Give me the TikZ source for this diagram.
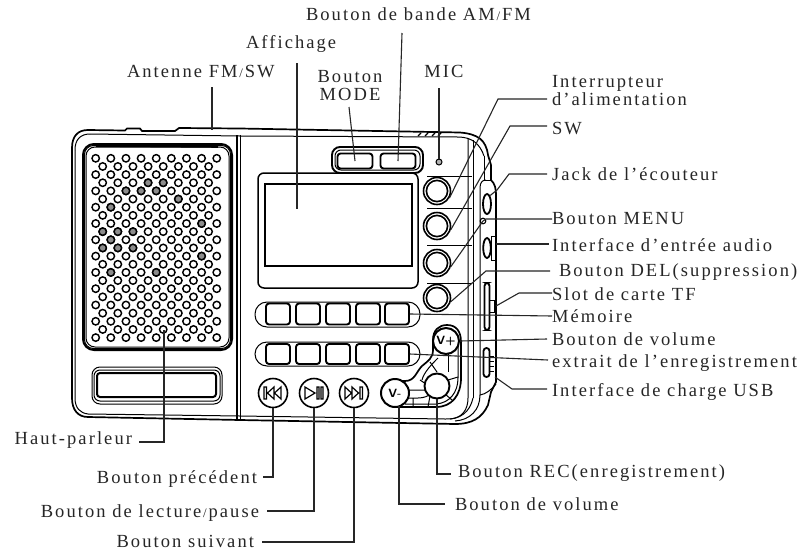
\documentclass[tikz,border=0pt]{standalone}
\usepackage{fontspec}
\usetikzlibrary{shapes.geometric}
\setmainfont[LetterSpace=11.2]{Liberation Serif}
\newcommand{\slashmark}{\hspace{1.8pt}{\fontsize{13}{13}\selectfont/}\hspace{1.8pt}}
\begin{document}
\begin{tikzpicture}[x=1pt,y=-1pt,
  conn/.style={line width=1.1pt,black!85},
  lbl/.style={font=\fontsize{18.5}{18}\selectfont,inner sep=0pt,outer sep=0pt,text=black!85,text height=13pt,text depth=4pt},
  thin body/.style={line width=1pt},
  thick body/.style={line width=1.7pt},
  key/.style={draw,line width=1.9pt,rounded corners=3pt,fill=white},
  holeA/.style={draw,line width=1.45pt,fill=white},
  kbd/.style={draw,circle,line width=2pt,inner sep=0pt,fill=white,font=\bfseries\sffamily\fontsize{12}{12}\selectfont},
  trans/.style={draw,circle,line width=1.6pt,minimum size=29pt,inner sep=0pt,fill=white},
]
\useasboundingbox (0,0) rectangle (806,552);
\fill[white] (0,0) rectangle (806,552);

% ---- body
\draw[thick body,fill=white] (88,130) -- (125,130.5) -- (127,128.5) -- (140,128.5) -- (142,131) -- (175,131) -- (179,128) -- (240,128.5) -- (460,132.5) .. controls (478,134) and (486,140) .. (488,155) -- (491,165) -- (491,180)
   .. controls (495,184) and (496,188) .. (496,196) -- (496,382) -- (491,392) -- (488,405) .. controls (482,418) and (472,424) .. (455,424) -- (240,420) -- (88,417) .. controls (78,417) and (72,410) .. (72,398) -- (72,148) .. controls (72,136) and (78,130) .. (88,130) -- cycle;
\draw[line width=2.4pt] (496,196) -- (496,382);
\draw[thin body] (90,134) -- (240,136) -- (458,137) .. controls (472,137) and (480,144) .. (484,156);
\draw[thin body] (75,150) .. controls (75,140) and (80,134) .. (90,134);
\draw[thin body] (75,150) -- (75,398) .. controls (75,408) and (80,413) .. (88,414) -- (240,416) -- (445,419) .. controls (460,420) and (470,412) .. (473,398);
\draw[thick body] (237,135) -- (237,420);
\draw[thin body] (240,135) -- (240,420);
\draw[thin body] (468,138) -- (468,398) .. controls (468,410) and (462,418) .. (450,419);
\draw[thin body] (473,140) -- (473,398);
\draw[thin body] (484,156) -- (484,180) -- (491,180);
\draw[thin body] (480,395) -- (480,188) .. controls (480,183) and (482,180) .. (486,180);
\draw[thin body] (480,395) .. controls (486,394) and (491,390) .. (496,384);
\draw[thin body] (480,395) .. controls (480,410) and (470,420) .. (455,421);
\draw[line width=1.4pt] (418,136) -- (421,133) (425,136) -- (428,133) (432,136) -- (435,133) (438,136) -- (441,133);

% ---- grille
\draw[line width=2pt,rounded corners=11pt] (83,144) rectangle (232,350);
\draw[thin body,rounded corners=9pt] (86,147) rectangle (229,347);
\draw[thin body,rounded corners=9pt] (84.5,145.5) rectangle (230.5,348.5);
\draw[line width=1.6pt] (96,146) -- (218,147);
\foreach \r in {0,2,...,22} \foreach \c in {0,...,8}
  \draw[holeA] ({95.7+15.13*\c},{158.3+8.15*\r}) circle (3.7);
\foreach \r in {1,3,...,21} \foreach \c in {0,...,7}
  \draw[holeA] ({102.7+15.13*\c},{158.3+8.15*\r}) circle (3.7);
\foreach \r/\c in {4/2,4/3,4/4,6/1,8/7,10/1,12/7,14/1,14/4}
  \draw[holeA,fill=black!45] ({95.7+15.13*\c},{158.3+8.15*\r}) circle (3.7);
\foreach \r/\c in {3/3,3/4,5/5,9/0,9/1,9/2,11/0,11/1,11/2}
  \draw[holeA,fill=black!45] ({102.7+15.13*\c},{158.3+8.15*\r}) circle (3.7);

% ---- speaker bar
\draw[thin body,rounded corners=8pt] (92,367) rectangle (222,404);
\draw[thin body,rounded corners=6pt] (94,370) rectangle (220,401);
\draw[line width=2pt,rounded corners=3pt] (97,373) rectangle (216,397);

% ---- top buttons
\draw[line width=1.9pt,rounded corners=8pt] (332,147) rectangle (423,173);
\draw[thin body,rounded corners=6pt] (335,150) rectangle (420,170);
\node[key,minimum width=35pt,minimum height=15pt,inner sep=0pt] (mode) at (355,161) {};
\node[key,minimum width=35pt,minimum height=15pt,inner sep=0pt] (band) at (398,161) {};
\node[draw,circle,line width=1pt,minimum size=6pt,inner sep=0pt,fill=black!30] (mic) at (439,162) {};

% ---- screen
\draw[line width=1.5pt,rounded corners=6pt,fill=white] (258,173) rectangle (418,288);
\node[draw,line width=1.1pt,minimum width=147pt,minimum height=82pt,inner sep=0pt] (screen) at (338.5,225) {};

% ---- side keys
\draw[thin body] (427,176) -- (472,176) (427,208) -- (472,208) (427,245) -- (472,245) (427,283) -- (472,283);
\foreach \n/\yy in {pow/191,sw/226,menu/263,del/298}{
  \node[draw,circle,line width=1.6pt,minimum size=27pt,inner sep=0pt,fill=white] (\n) at (437,\yy) {};
  \draw[line width=1.6pt] (437,\yy) circle (10.6);
}

% ---- side jacks
\node[draw,ellipse,line width=1.8pt,minimum width=8pt,minimum height=20pt,inner sep=0pt,fill=white] (jack) at (487,204) {};
\draw[line width=1.1pt] (483,221) circle (2.8);
\coordinate (menuJoint) at (483,221);
\draw[thin body,fill=white] (491,236) rectangle (495,260);
\draw[line width=1.8pt,fill=white] (487,248) ellipse (3.8 and 10);
\coordinate (aux) at (496,244);
\draw[line width=1.8pt,rounded corners=3pt] (484.5,283) rectangle (489.5,330);
\draw[thin body] (490,300) -- (494,300) -- (494,312) -- (490,312);
\coordinate (slot) at (496,306);
\draw[line width=1.8pt,rounded corners=3pt] (483.5,348) rectangle (489.5,377);
\draw[thin body] (490,356) -- (494,356) (490,361) -- (494,361) (490,366) -- (494,366) (490,371) -- (494,371);
\coordinate (usb) at (495,377);

% ---- preset rows
\draw[thin body,rounded corners=12pt] (255,302) rectangle (420,327);
\draw[thin body,rounded corners=12pt] (255,342) rectangle (420,366);
\foreach \x [count=\i] in {278,308,338,368,397}{
  \node[key,minimum width=24pt,minimum height=21pt,inner sep=0pt] (mem\i) at (\x,314) {};
  \node[key,minimum width=24pt,minimum height=20pt,inner sep=0pt] (ext\i) at (\x,354) {};
}

% ---- volume cross
\draw[line width=1.7pt] (433,340) -- (433,350) .. controls (433,358) and (428,361) .. (422,366) .. controls (416,372) and (415,381) .. (405,381) -- (392,381);
\draw[line width=1.7pt] (433,340) .. controls (433,330) and (439,325) .. (447,325) .. controls (456,325) and (461,331) .. (461,342) -- (461,378) .. controls (461,395) and (452,407) .. (436,407) -- (395,407);
\draw[thin body] (458,340) -- (458,378) .. controls (458,392) and (450,403) .. (436,404) -- (405,404);
\draw[thin body] (448,352) -- (448,372);
\draw[thin body] (430,362) -- (437,372) (420,380) -- (426,384) (448,380) -- (458,377);
\draw[thin body] (408,390) -- (426,390) (404,398) -- (418,398) .. controls (424,398) and (428,396) .. (431,394) (413,398) -- (413,407);
\draw[thin body] (430,396) -- (428,407) (445,394) -- (452,400);
\draw[thin body] (438,358) .. controls (432,364) and (424,372) .. (422,380);
\node[draw,circle,line width=1.9pt,minimum size=25pt,inner sep=0pt,fill=white] (rec) at (437,386) {};
\node[kbd,minimum size=26pt] (vup) at (446,341) {V+};
\node[kbd,minimum size=28pt] (vdn) at (395,393) {V-};

% ---- transport
\node[trans] (prev) at (273,393) {};
\node[trans] (play) at (314,393) {};
\node[trans] (next) at (354,393) {};
\draw[line width=1.2pt] (264,387) rectangle (266.5,399) (274,387) -- (267.5,393) -- (274,399) -- cycle (281,387) -- (274.5,393) -- (281,399) -- cycle;
\draw[line width=1.2pt] (305,387) -- (315,393) -- (305,399) -- cycle (317,387) rectangle (319,399) (321,387) rectangle (323,399);
\draw[line width=1.2pt] (345,387) -- (351.5,393) -- (345,399) -- cycle (352,387) -- (358.5,393) -- (352,399) -- cycle (360,387) rectangle (362.5,399);

% ---- labels
\node[lbl,anchor=west] (tBand) at (306,16) {Bouton de bande AM\slashmark FM};
\node[lbl,anchor=west] (tDisp) at (246,44) {Affichage};
\node[lbl,anchor=west] (tAnt) at (127,73) {Antenne FM\slashmark SW};
\node[lbl,align=center,text height=,text depth=] (tMode) at (350,86) {Bouton\\MODE};
\node[lbl] (tMic) at (444,73) {MIC};
\node[lbl,align=left,anchor=west,text height=,text depth=] (tPow) at (552,91) {Interrupteur\\d'alimentation};
\node[lbl,anchor=west] (tSW) at (552,130) {SW};
\node[lbl,anchor=west] (tJack) at (552,176) {Jack de l'écouteur};
\node[lbl,anchor=west] (tMenu) at (552,220) {Bouton MENU};
\node[lbl,anchor=west] (tAux) at (552,247) {Interface d'entrée audio};
\node[lbl,anchor=west] (tDel) at (559,272) {Bouton DEL(suppression)};
\node[lbl,anchor=west] (tSlot) at (552,296) {Slot de carte TF};
\node[lbl,anchor=west] (tMem) at (552,318) {Mémoire};
\node[lbl,anchor=west] (tVolA) at (552,341) {Bouton de volume};
\node[lbl,anchor=west] (tExt) at (552,363) {extrait de l'enregistrement};
\node[lbl,anchor=west] (tUsb) at (552,392) {Interface de charge USB};
\node[lbl,anchor=east] (tSpk) at (132,440) {Haut-parleur};
\node[lbl,anchor=east] (tPrev) at (257,479) {Bouton précédent};
\node[lbl,anchor=east] (tPlay) at (259,513) {Bouton de lecture\slashmark pause};
\node[lbl,anchor=east] (tNext) at (254,543) {Bouton suivant};
\node[lbl,anchor=west] (tRec) at (458,473) {Bouton REC(enregistrement)};
\node[lbl,anchor=west] (tVolB) at (455,506) {Bouton de volume};

% ---- connector ends
\coordinate (cAnt) at (212,130);
\coordinate (cDisp) at (297,209);
\coordinate (cSpk) at (164,330);
\coordinate (cVdn) at (399,406);
\coordinate (ePow) at (547,99);
\coordinate (eSW) at (547,126);
\coordinate (eJack) at (547,174);
\coordinate (eMenu) at (552,219);
\coordinate (eAux) at (549,244);
\coordinate (eDel) at (550,271);
\coordinate (eSlot) at (552,293);
\coordinate (eMem) at (552,316);
\coordinate (eVolA) at (547,339);
\coordinate (eExt) at (548,360);
\coordinate (eUsb) at (547,389);
\coordinate (eSpk) at (139,442);
\coordinate (ePrev) at (263,477);
\coordinate (ePlay) at (267,511);
\coordinate (eNext) at (262,542);
\coordinate (eRec) at (451,474);
\coordinate (eVolB) at (445,504);

% ---- connectors
\draw[conn] (212,87) -- (cAnt);
\draw[conn] (297,63) -- (cDisp);
\draw[conn] (349,107) -- (mode.center);
\draw[conn] (402,33) -- (band.center);
\draw[conn] (439,88) -- (mic.north);
\draw[conn] (pow.-30) -- (498,99) -- (ePow);
\draw[conn] (sw.-15) -- (510,126) -- (eSW);
\draw[conn] (jack.70) -- (497,190) -- (509,174) -- (eJack);
\draw[conn] (menu.-15) -- (menuJoint) -- (486,219) -- (eMenu);
\draw[conn] (aux) -- (eAux);
\draw[conn] (del.-15) -- (486,271) -- (eDel);
\draw[conn] (slot) -- (519,293) -- (eSlot);
\draw[conn] (mem5.east) -- (eMem);
\draw[conn] (vup.east) -- (eVolA);
\draw[conn] (ext5.east) -- (eExt);
\draw[conn] (usb) -- (512,389) -- (eUsb);
\draw[conn] (cSpk) |- (eSpk);
\draw[conn] (prev.south) |- (ePrev);
\draw[conn] (play.south) |- (ePlay);
\draw[conn] (next.south) |- (eNext);
\draw[conn] (rec.south) |- (eRec);
\draw[conn] (cVdn) |- (eVolB);
\end{tikzpicture}
\end{document}
